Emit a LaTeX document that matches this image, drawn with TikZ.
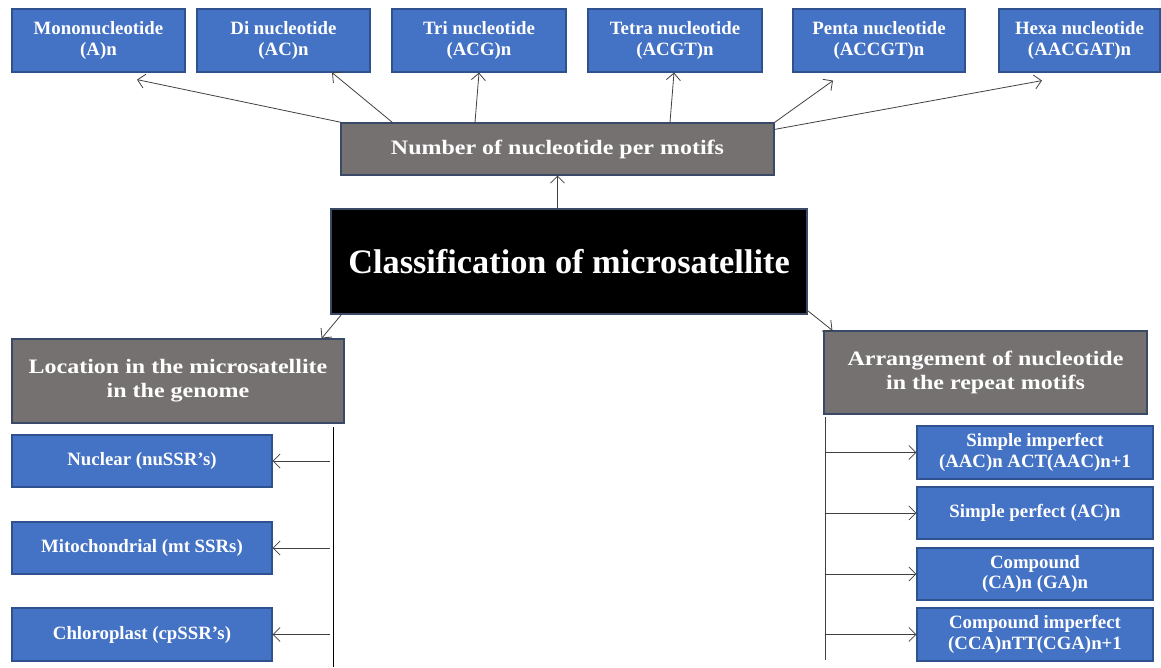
\documentclass[tikz,border=0pt]{standalone}
\usepackage{fontspec}
\setmainfont{Liberation Serif}
\newfontfamily\widefont{Liberation Serif}[FakeStretch=1.17]
\usetikzlibrary{arrows.meta,calc}
\definecolor{boxblue}{HTML}{4472C4}
\definecolor{blueedge}{HTML}{2F528F}
\definecolor{boxgray}{HTML}{767171}
\definecolor{grayedge}{HTML}{3A4A66}
\definecolor{linegray}{HTML}{404040}
\begin{document}
\begin{tikzpicture}[x=1pt,y=-1pt,
  bluebox/.style={draw=blueedge, line width=1.2pt, fill=boxblue, text=white, align=center, inner sep=0pt,
    font=\bfseries\fontsize{18.8}{20.5}\selectfont},
  graybox/.style={draw=grayedge, line width=1.2pt, fill=boxgray, text=white, align=center, inner sep=0pt,
    font=\widefont\bfseries\fontsize{20.5}{24}\selectfont},
  titlebox/.style={draw=grayedge, line width=1.2pt, fill=black, text=white, align=center, inner sep=0pt,
    font=\bfseries\fontsize{34.3}{36}\selectfont},
  conn/.style={draw=linegray, line width=0.8pt, -{Straight Barb[length=7pt,width=14pt,line width=0.8pt]}},
  rail/.style={draw=black, line width=0.9pt}]
\useasboundingbox (0,0) rectangle (1161,667);
% top row
\node[bluebox, minimum width=173pt, minimum height=63pt] (mono) at (98.5,40.5) {Mononucleotide\\(A)n};
\node[bluebox, minimum width=173pt, minimum height=63pt] (di) at (283.5,40.5) {Di nucleotide\\(AC)n};
\node[bluebox, minimum width=174pt, minimum height=63pt] (tri) at (479,40.5) {Tri nucleotide\\(ACG)n};
\node[bluebox, minimum width=174pt, minimum height=63pt] (tetra) at (675,40.5) {Tetra nucleotide\\(ACGT)n};
\node[bluebox, minimum width=172pt, minimum height=63pt] (penta) at (879,40.5) {Penta nucleotide\\(ACCGT)n};
\node[bluebox, minimum width=161pt, minimum height=63pt] (hexa) at (1079.5,40.5) {Hexa nucleotide\\(AACGAT)n};
% middle
\node[graybox, minimum width=433pt, minimum height=52pt] (num) at (557.5,149) {Number of nucleotide per motifs};
\node[titlebox, minimum width=476pt, minimum height=105pt] (title) at (569,261.5) {Classification of microsatellite};
% left branch
\node[graybox, minimum width=332pt, minimum height=84pt] (loc) at (178,381) {Location in the microsatellite\\in the genome};
\node[bluebox, minimum width=260pt, minimum height=52pt] (nuc) at (142,461) {Nuclear (nuSSR's)};
\node[bluebox, minimum width=260pt, minimum height=52pt] (mito) at (142,548) {Mitochondrial (mt SSRs)};
\node[bluebox, minimum width=260pt, minimum height=53pt] (chloro) at (142,634.5) {Chloroplast (cpSSR's)};
% right branch
\node[graybox, minimum width=323pt, minimum height=83pt] (arr) at (985.5,372.5) {Arrangement of nucleotide\\in the repeat motifs};
\node[bluebox, minimum width=236pt, minimum height=53pt] (simp) at (1035,452.5) {Simple imperfect\\(AAC)n ACT(AAC)n+1};
\node[bluebox, minimum width=236pt, minimum height=52pt] (sperf) at (1035,513) {Simple perfect (AC)n};
\node[bluebox, minimum width=236pt, minimum height=52pt] (comp) at (1035,574) {Compound\\(CA)n (GA)n};
\node[bluebox, minimum width=236pt, minimum height=53pt] (cimp) at (1035,634.5) {Compound imperfect\\(CCA)nTT(CGA)n+1};
% rails
\coordinate (lt) at (333,427);
\coordinate (lb) at (333,667);
\coordinate (rt) at (825,417);
\coordinate (rb) at (825,660);
\draw[rail] (lt) -- (lb);
\draw[rail, draw=linegray] (rt) -- (rb);
% connectors from number box
\draw[conn] ([shift={(1,0)}]num.north west) -- ([shift={(38.5,7)}]mono.south);
\draw[conn] ([shift={(52,0)}]num.north west) -- ([shift={(48.5,0)}]di.south);
\draw[conn] ([shift={(-82.5,0)}]num.north) -- (tri.south);
\draw[conn] ([shift={(112.5,0)}]num.north) -- ([shift={(-1,0)}]tetra.south);
\draw[conn] (num.north east) -- ([shift={(-46,8)}]penta.south);
\draw[conn] ([shift={(0,7)}]num.north east) -- ([shift={(-37.5,8)}]hexa.south);
% from title
\draw[conn] (title.north -| num.south) -- (num.south);
\draw[conn] ([shift={(11,0)}]title.south west) -- ([shift={(-23,0)}]loc.north east);
\draw[conn] ([shift={(0,-4)}]title.south east) -- ([shift={(9,0)}]arr.north west);
% left branch arrows
\draw[conn] ([shift={(-3,0)}]nuc.east -| lt) -- (nuc.east);
\draw[conn] ([shift={(-3,0)}]mito.east -| lt) -- (mito.east);
\draw[conn] ([shift={(-3,0)}]chloro.east -| lt) -- (chloro.east);
% right branch arrows
\draw[conn] (simp.west -| rt) -- (simp.west);
\draw[conn] (sperf.west -| rt) -- (sperf.west);
\draw[conn] (comp.west -| rt) -- (comp.west);
\draw[conn] (cimp.west -| rt) -- (cimp.west);
\end{tikzpicture}
\end{document}
